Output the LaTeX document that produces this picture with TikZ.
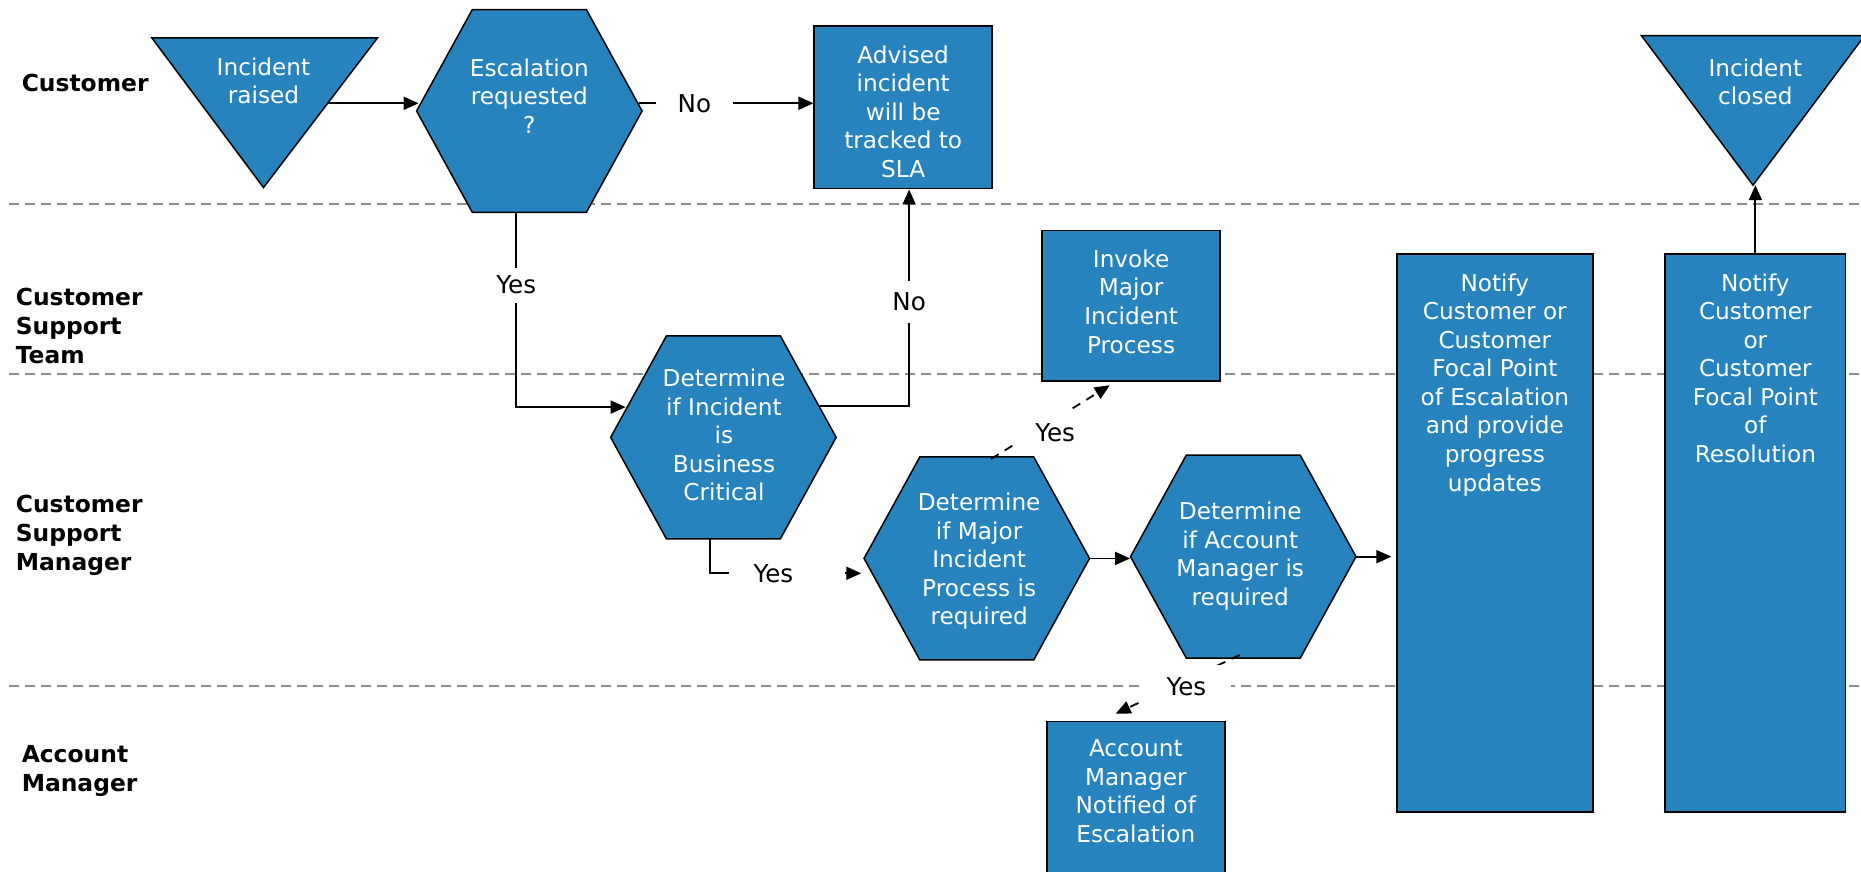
\documentclass[tikz,border=0pt]{standalone}
\usepackage{fontspec}
\setmainfont{DejaVu Sans}
\usetikzlibrary{arrows.meta,calc}
\definecolor{boxblue}{RGB}{39,131,189}
\definecolor{lanegray}{RGB}{140,140,140}
\newcommand{\pxu}{0.5935pt}
\newcommand{\myhex}[3]{%
  \filldraw[shapeframe] ({#2-95},#3) -- ({#2-48},{#3-85.5}) -- ({#2+48},{#3-85.5}) -- ({#2+95},#3) -- ({#2+48},{#3+85.5}) -- ({#2-48},{#3+85.5}) -- cycle;
  \node[hexframe] (#1) at (#2,#3) {};
}
\begin{document}
\begin{tikzpicture}[x=0.5935pt,y=-0.5935pt,
  shapeframe/.style={fill=boxblue,draw=black,line width=0.75pt},
  hexframe/.style={rectangle,draw=none,inner sep=0pt,minimum width=190*\pxu,minimum height=171*\pxu},
  rectbox/.style={rectangle,fill=boxblue,draw=black,line width=0.75pt,inner sep=0pt},
  wtext/.style={text=white,align=center,font=\fontsize{11.6}{14.3}\selectfont,inner sep=0pt},
  lane/.style={draw=lanegray,line width=0.8pt,dash pattern=on 5pt off 3pt},
  lanelabel/.style={anchor=west,align=left,font=\fontsize{11.7}{14.5}\selectfont\bfseries,inner sep=0pt},
  conn/.style={draw=black,line width=0.9pt},
  arr/.style={conn,-{Triangle[length=7.5pt,width=6.5pt]}},
  darr/.style={arr,dash pattern=on 4.5pt off 3.5pt},
  lbl/.style={fill=white,text=black,font=\fontsize{12.3}{14}\selectfont},
]
\useasboundingbox (0,0) rectangle (1568,734);
\clip (0,0) rectangle (1568,734);

% swimlane separators
\draw[lane] (8,172) -- (1568,172);
\draw[lane] (8,315) -- (1568,315);
\draw[lane] (8,578) -- (1568,578);

% lane labels
\node[lanelabel] (l1) at (18,70) {Customer};
\node[lanelabel] (l2) at (13,275) {Customer\\Support\\Team};
\node[lanelabel] (l3) at (13,451) {Customer\\Support\\Manager};
\node[lanelabel] (l4) at (18,650) {Account\\Manager};

% triangles
\filldraw[shapeframe] (128,32) -- (318,32) -- (222,158) -- cycle;
\node[wtext] (inc) at (222,68) {Incident\\raised};
\coordinate (incr) at (276,87);
\filldraw[shapeframe] (1383,30) -- (1571,30) -- (1477,156) -- cycle;
\node[wtext] (clo) at (1479,69) {Incident\\closed};
\coordinate (cloapex) at (1477,156);

% hexagons
\myhex{esc}{446}{93.5}
\node[wtext] (esct) at (446,81) {Escalation\\requested\\?};
\myhex{bc}{609.5}{368.5}
\node[wtext] (bct) at (610,366.5) {Determine\\if Incident\\is\\Business\\Critical};
\myhex{maj}{823}{470.5}
\node[wtext] (majt) at (825,473) {Determine\\if Major\\Incident\\Process is\\required};
\myhex{acc}{1047.5}{469}
\node[wtext] (acct) at (1045,468.5) {Determine\\if Account\\Manager is\\required};

% rectangles
\node[rectbox,minimum width=150*\pxu,minimum height=137*\pxu] (adv) at (761,90.5) {};
\node[wtext] (advt) at (761,94) {Advised\\incident\\will be\\tracked to\\SLA};
\node[rectbox,minimum width=150*\pxu,minimum height=127*\pxu] (inv) at (953,257.5) {};
\node[wtext] (invt) at (953,254) {Invoke\\Major\\Incident\\Process};
\node[rectbox,minimum width=150*\pxu,minimum height=160*\pxu] (am) at (957,688) {};
\node[wtext,anchor=north] (amt) at (957,623) {Account\\Manager\\Notified of\\Escalation};
\node[rectbox,minimum width=165*\pxu,minimum height=470*\pxu] (ne) at (1259.5,449) {};
\node[wtext,anchor=north] (net) at (1259.5,230) {Notify\\Customer or\\Customer\\Focal Point\\of Escalation\\and provide\\progress\\updates};
\node[rectbox,minimum width=152*\pxu,minimum height=470*\pxu] (nr) at (1479,449) {};
\node[wtext,anchor=north] (nrt) at (1479,230) {Notify\\Customer\\or\\Customer\\Focal Point\\of\\Resolution};

% connector points
\coordinate (escr) at ($(esc.east)+(-3,-6.5)$);
\coordinate (escb) at ($(esc.south)+(-11,0)$);
\coordinate (bcl) at ($(bc.west)+(13,-25.5)$);
\coordinate (bcr) at ($(bc.east)+(-15,-26.5)$);
\coordinate (advb) at ($(adv.south)+(5,0)$);
\coordinate (bcb) at ($(bc.south)+(-11.5,0)$);
\coordinate (majl) at ($(maj.west)+(-2,12.5)$);
\coordinate (majtop) at ($(maj.north)+(12,2)$);
\coordinate (invb) at ($(inv.south)+(-18,3)$);
\coordinate (accb) at ($(acc.south)+(-3,-3)$);
\coordinate (amtop) at ($(am.north)+(-17,-6)$);
\coordinate (ner) at ($(acc.east -| ne.west)+(-4,0)$);

% connectors
\draw[arr] (incr) -- ($(incr -| esc.west)+(2,0)$);
\draw[arr] (escr) -- node[lbl,pos=0.318,inner xsep=11pt,inner ysep=2pt]{No} (escr -| adv.west);
\draw[arr] (escb) |- node[lbl,pos=0.186,inner xsep=2pt,inner ysep=4.2pt]{Yes} (bcl);
\draw[arr] (bcr) -| node[lbl,pos=0.74,inner xsep=2pt,inner ysep=6pt]{No} (advb);
\draw[arr] (bcb) |- node[lbl,pos=0.754,inner xsep=0pt,inner ysep=2pt,text width=58.2pt,align=left]{\hspace*{12.5pt}Yes} (majl);
\draw[darr] (majtop) -- node[lbl,pos=0.54,yshift=-7pt,inner xsep=9pt,inner ysep=7pt]{Yes} (invb);
\draw[arr] (maj.east) -- (maj.east -| acc.west);
\draw[arr] (acc.east) -- (ner);
\draw[darr] (accb) -- node[lbl,pos=0.43,yshift=-3pt,inner xsep=12.5pt,inner ysep=6pt]{Yes} (amtop);
\draw[arr] (nr.north) -- (nr.north |- cloapex);
\end{tikzpicture}
\end{document}
